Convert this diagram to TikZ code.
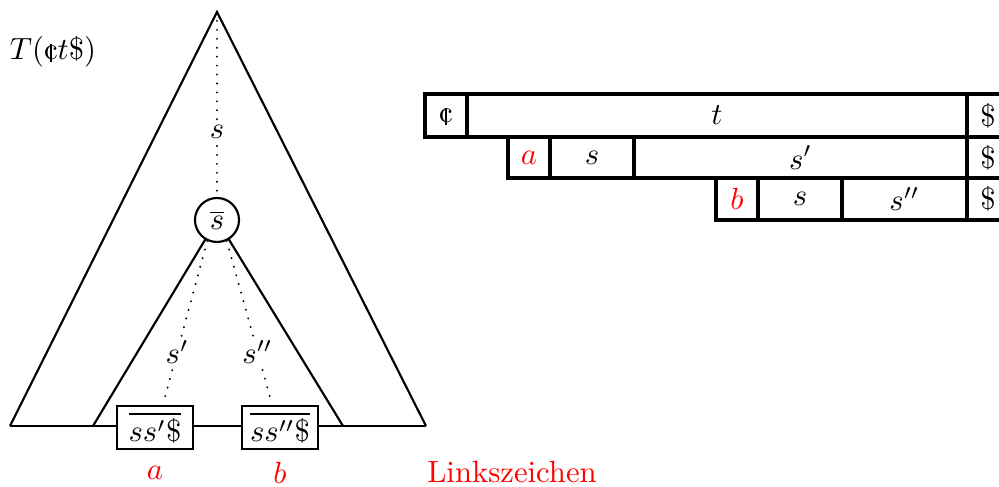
\documentclass[tikz,border=0pt]{standalone}
\usetikzlibrary{calc}
\newcommand\mycent{\ooalign{\hfil\rule[-0.7pt]{0.55pt}{5.7pt}\hfil\cr c\cr}}
\begin{document}
\begin{tikzpicture}[x=0.3257pt,y=-0.3257pt,
  tri/.style={line width=0.7pt},
  thinline/.style={line width=0.4pt},
  dotline/.style={line width=0.7pt,line cap=round,dash pattern=on 0.01pt off 2.9pt},
  cell/.style={draw,line width=1pt,inner sep=0pt,outer sep=0pt,anchor=north west},
  leaf/.style={draw,line width=0.9pt,inner sep=0pt,minimum width=76*0.3257pt,minimum height=43*0.3257pt,fill=white},
  lab/.style={fill=white,inner sep=1pt},
  redtxt/.style={text=red}]
\useasboundingbox (0,0) rectangle (999,487);
\clip (0,0) rectangle (999,487);

% big triangle
\coordinate (apex) at (217,12);
\coordinate (bl) at (10,426);
\coordinate (br) at (426,426);
\coordinate (il) at (93,426);
\coordinate (ir) at (343,426);
\coordinate (sc) at (217,220);

\draw[tri] (bl) -- (apex) -- (br);
\draw[tri] (bl) -- (il);
\draw[tri] (ir) -- (br);
\draw[tri] (il) -- (sc) -- (ir);

% leaves
\node[leaf] (bx1) at (155,427.5) {$\overline{ss'\$}$};
\node[leaf] (bx2) at (280,427.5) {$\overline{ss''\$}$};
\draw[thinline] (il) -- (il -| bx1.west);
\draw[thinline] (il -| bx1.east) -- (il -| bx2.west);
\draw[thinline] (il -| bx2.east) -- (ir);

% inner node
\node[draw,circle,line width=0.7pt,fill=white,minimum size=44*0.3257pt,inner sep=0pt] (sbar) at (sc) {$\overline{s}$};

% dotted paths
\coordinate (e1) at (165,397);
\coordinate (e2) at (270,397);
\draw[dotline] (apex) -- node[lab,pos=0.65] (ls) {$s$} (sbar.north);
\draw[dotline] (sbar.-115) -- node[lab,pos=0.71] (ls1) {$s'$} (e1);
\draw[dotline] (sbar.-65) -- node[lab,pos=0.71] (ls2) {$s''$} (e2);

% labels
\node (T) at (53,52) {$T(\mbox{\mycent}t\$)$};
\node[redtxt] (la) at (155,473) {$a$};
\node[redtxt] (lb) at (280,473) {$b$};
\node[redtxt] (lk) at (512,472) {Linkszeichen};

% table row 1
\node[cell,minimum width=42*0.3257pt,minimum height=43*0.3257pt] (r1a) at (425,94) {\mycent};
\node[cell,minimum width=500*0.3257pt,minimum height=43*0.3257pt] (r1b) at (467,94) {$t$};
\node[cell,minimum width=42*0.3257pt,minimum height=43*0.3257pt] (r1c) at (967,94) {$\$$};
% row 2
\node[cell,minimum width=42*0.3257pt,minimum height=41*0.3257pt] (r2a) at (508,137) {$\color{red}a$};
\node[cell,minimum width=84*0.3257pt,minimum height=41*0.3257pt] (r2b) at (550,137) {$s$};
\node[cell,minimum width=333*0.3257pt,minimum height=41*0.3257pt] (r2c) at (634,137) {$s'$};
\node[cell,minimum width=42*0.3257pt,minimum height=41*0.3257pt] (r2d) at (967,137) {$\$$};
% row 3
\node[cell,minimum width=42*0.3257pt,minimum height=42*0.3257pt] (r3a) at (716,178) {$\color{red}b$};
\node[cell,minimum width=84*0.3257pt,minimum height=42*0.3257pt] (r3b) at (758,178) {$s$};
\node[cell,minimum width=125*0.3257pt,minimum height=42*0.3257pt] (r3c) at (842,178) {$s''$};
\node[cell,minimum width=42*0.3257pt,minimum height=42*0.3257pt] (r3d) at (967,178) {$\$$};
\end{tikzpicture}
\end{document}
